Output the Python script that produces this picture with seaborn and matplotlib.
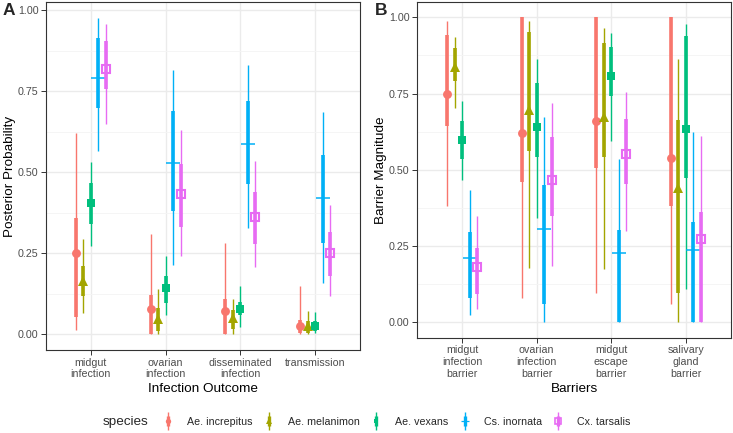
import numpy as np
import pandas as pd
import matplotlib
matplotlib.use("Agg")
import matplotlib.pyplot as plt
import seaborn as sns
from matplotlib.lines import Line2D
from matplotlib.legend_handler import HandlerTuple

# ---------------- data ----------------
species = ["Ae. increpitus", "Ae. melanimon", "Ae. vexans", "Cs. inornata", "Cx. tarsalis"]
palette = ["#F8766D", "#A3A500", "#00BF7D", "#00B0F6", "#E76BF3"]

outcomes = ["midgut\ninfection", "ovarian\ninfection", "disseminated\ninfection", "transmission"]
# rows = outcome, columns = species
a_est = [[0.250, 0.163, 0.405, 0.790, 0.820],
         [0.079, 0.047, 0.143, 0.528, 0.432],
         [0.071, 0.050, 0.078, 0.586, 0.363],
         [0.026, 0.025, 0.025, 0.420, 0.250]]
a_lo95 = [[0.012, 0.066, 0.273, 0.566, 0.648],
          [0.000, 0.000, 0.060, 0.215, 0.240],
          [0.000, 0.000, 0.023, 0.328, 0.207],
          [0.000, 0.000, 0.003, 0.158, 0.119]]
a_hi95 = [[0.620, 0.294, 0.533, 0.977, 0.957],
          [0.310, 0.138, 0.242, 0.815, 0.630],
          [0.283, 0.107, 0.150, 0.830, 0.536],
          [0.150, 0.070, 0.069, 0.685, 0.400]]
a_lo50 = [[0.054, 0.117, 0.341, 0.700, 0.756],
          [0.000, 0.010, 0.097, 0.379, 0.330],
          [0.000, 0.015, 0.058, 0.463, 0.278],
          [0.005, 0.005, 0.010, 0.281, 0.179]]
a_hi50 = [[0.358, 0.211, 0.466, 0.916, 0.907],
          [0.122, 0.081, 0.181, 0.690, 0.526],
          [0.109, 0.076, 0.100, 0.720, 0.438],
          [0.045, 0.040, 0.040, 0.553, 0.317]]

barriers = ["midgut\ninfection\nbarrier", "ovarian\ninfection\nbarrier",
            "midgut\nescape\nbarrier", "salivary\ngland\nbarrier"]
b_est = [[0.747, 0.837, 0.598, 0.210, 0.181],
         [0.620, 0.696, 0.641, 0.306, 0.467],
         [0.661, 0.674, 0.807, 0.226, 0.551],
         [0.540, 0.440, 0.633, 0.236, 0.274]]
b_lo95 = [[0.380, 0.704, 0.467, 0.024, 0.043],
          [0.081, 0.177, 0.342, 0.000, 0.185],
          [0.098, 0.174, 0.594, 0.000, 0.299],
          [0.060, 0.000, 0.111, 0.000, 0.000]]
b_hi95 = [[0.987, 0.935, 0.725, 0.435, 0.350],
          [1.000, 0.987, 0.862, 0.674, 0.720],
          [1.000, 0.964, 0.948, 0.535, 0.755],
          [1.000, 0.864, 0.978, 0.623, 0.611]]
b_lo50 = [[0.643, 0.790, 0.535, 0.081, 0.092],
          [0.459, 0.563, 0.541, 0.060, 0.348],
          [0.505, 0.541, 0.741, 0.000, 0.454],
          [0.382, 0.098, 0.473, 0.000, 0.000]]
b_hi50 = [[0.943, 0.899, 0.660, 0.297, 0.245],
          [1.000, 0.951, 0.785, 0.451, 0.608],
          [1.000, 0.915, 0.902, 0.304, 0.668],
          [1.000, 0.663, 0.937, 0.328, 0.362]]

y_ticks = [0.0, 0.25, 0.50, 0.75, 1.00]
y_ticklabels = ["0.00", "0.25", "0.50", "0.75", "1.00"]


def long_frame(cats, est, lo95, hi95, lo50, hi50):
    rows = []
    for i, c in enumerate(cats):
        for j, sp in enumerate(species):
            rows.append(dict(cat=c, ci=i, species=sp, sj=j, est=est[i][j],
                             lo95=lo95[i][j], hi95=hi95[i][j],
                             lo50=lo50[i][j], hi50=hi50[i][j]))
    return pd.DataFrame(rows)


dfA = long_frame(outcomes, a_est, a_lo95, a_hi95, a_lo50, a_hi50)
dfB = long_frame(barriers, b_est, b_lo95, b_hi95, b_lo50, b_hi50)

# ---------------- style ----------------
sns.set_theme(style="whitegrid")
plt.rcParams["font.family"] = ["Liberation Sans", "DejaVu Sans"]

marker_kw = [
    dict(marker="o", ms=6.4, mew=0),
    dict(marker="^", ms=6.8, mew=0),
    dict(marker="s", ms=5.8, mew=0),
    dict(marker="+", ms=9.5, mew=1.1),
    dict(marker="s", ms=6.2, mew=1.5, mfc="none"),
]

TXT = 7.7
TITLE = 9.7

fig = plt.figure(figsize=(7.33, 4.33), dpi=100)
axA = fig.add_axes([46 / 733, 83 / 433, 314 / 733, 348 / 433])
axB = fig.add_axes([417.3 / 733, 95.3 / 433, 313.4 / 733, 335.7 / 433])


def draw(ax, df, cats, ylim, xlabel, ylabel):
    dodge = 0.1
    for j, sp in enumerate(species):
        sub = df[df.species == sp]
        x = sub.ci.values + (j - 2) * dodge
        col = palette[j]
        z = 3 + j * 0.1
        ax.vlines(x, sub.lo95, sub.hi95, color=col, lw=1.0, zorder=z, capstyle="butt")
        ax.vlines(x, sub.lo50, sub.hi50, color=col, lw=2.6, zorder=z + 0.01, capstyle="butt")
        kw = dict(marker_kw[j])
        kw.setdefault("mfc", col)
        ax.plot(x, sub.est.values, ls="none", color=col, mec=col, zorder=z + 0.02, **kw)
    ax.set_xlim(-0.6, len(cats) - 0.4)
    ax.set_ylim(*ylim)
    ax.set_xticks(range(len(cats)))
    ax.set_xticklabels(cats, linespacing=1.2)
    ax.set_yticks(y_ticks)
    ax.set_yticklabels(y_ticklabels)
    ax.set_yticks([0.125, 0.375, 0.625, 0.875], minor=True)
    ax.set_facecolor("white")
    ax.grid(which="major", axis="both", color="#EBEBEB", lw=1.0)
    ax.grid(which="minor", axis="y", color="#F4F4F4", lw=0.6)
    ax.grid(which="minor", axis="x", visible=False)
    ax.set_axisbelow(True)
    for s in ax.spines.values():
        s.set_visible(True)
        s.set_color("#333333")
        s.set_linewidth(0.8)
    ax.tick_params(axis="both", which="major", bottom=True, left=True, length=3.5, width=0.7,
                   color="#333333", labelsize=TXT, labelcolor="#4D4D4D", pad=2)
    ax.tick_params(axis="both", which="minor", bottom=False, left=False, length=0)
    ax.set_xlabel(xlabel, fontsize=TITLE, color="black", labelpad=3)
    ax.set_ylabel(ylabel, fontsize=TITLE, color="black", labelpad=1.5)


draw(axA, dfA, outcomes, (-0.049, 1.026), "Infection Outcome", "Posterior Probability")
draw(axB, dfB, barriers, (-0.05, 1.05), "Barriers", "Barrier Magnitude")

fig.text(0.004, 0.992, "A", fontsize=12.5, fontweight="bold", va="top", ha="left")
fig.text(0.511, 0.992, "B", fontsize=12.5, fontweight="bold", va="top", ha="left")

# ---------------- legend ----------------
handles = []
for j, sp in enumerate(species):
    col = palette[j]
    thin = Line2D([], [], ls="none", marker="|", ms=13, mew=1.0, color=col)
    thick = Line2D([], [], ls="none", marker="|", ms=6.5, mew=2.4, color=col)
    kw = dict(marker_kw[j])
    kw["ms"] = kw["ms"] * 0.6
    if kw.get("mew", 0) > 0:
        kw["mew"] = kw["mew"] * 0.8
    kw.setdefault("mfc", col)
    pt = Line2D([], [], ls="none", color=col, mec=col, **kw)
    handles.append((thin, thick, pt))

fig.text(102.7 / 733, 0.026, "species", fontsize=TITLE, va="center", ha="left")
fig.legend(handles, species, loc="center", bbox_to_anchor=(396.7 / 733, 0.026), ncol=5,
           frameon=False, fontsize=TXT, handler_map={tuple: HandlerTuple(ndivide=1, pad=0)},
           handlelength=1.0, handletextpad=1.3, columnspacing=1.0, borderpad=0, borderaxespad=0)

fig.savefig("out.png", dpi=100, facecolor="white")
